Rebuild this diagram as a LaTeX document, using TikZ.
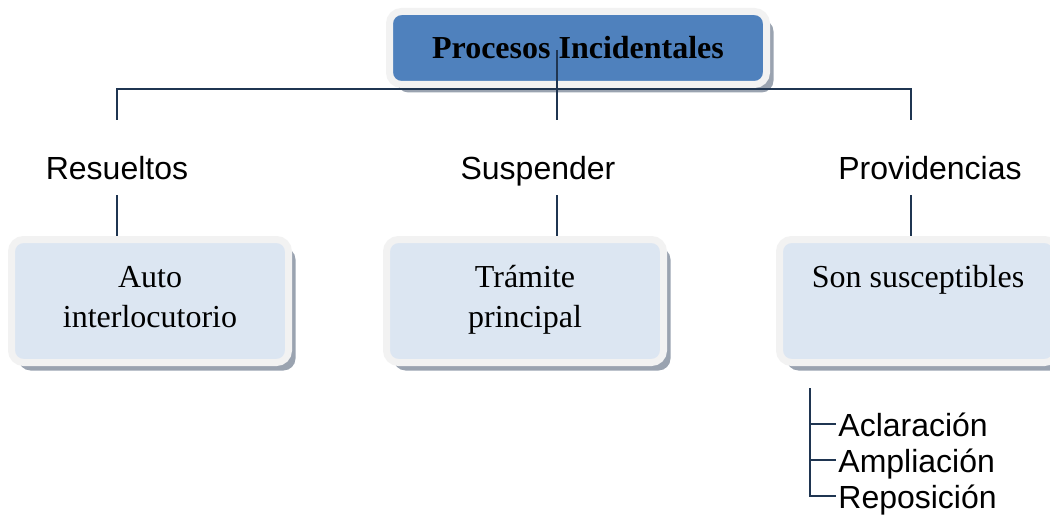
\documentclass[tikz,border=0pt]{standalone}
\usepackage{fontspec}
\setmainfont{Liberation Serif}
\setsansfont{Liberation Sans}
\usetikzlibrary{shadows}
\definecolor{titleblue}{HTML}{4F81BD}
\definecolor{boxfill}{HTML}{DCE6F2}
\definecolor{boxrim}{HTML}{F2F2F2}
\definecolor{boxshade}{HTML}{9AA3B0}
\definecolor{linenavy}{HTML}{1F3551}

\begin{document}
\begin{tikzpicture}[x=0.5pt,y=-0.5pt,
	card/.style={draw=boxrim, line width=3.5pt, fill=boxfill, rounded corners=6pt, minimum width=138.5pt, minimum height=61.5pt, align=center, text height=11pt, text depth=25pt, font=\fontsize{16}{20}\selectfont, drop shadow={shadow xshift=3.5pt, shadow yshift=-4pt, fill=boxshade, opacity=1}},
	card2/.style={card, text height=31pt, text depth=5pt},
	branch/.style={font=\sffamily\fontsize{16}{19}\selectfont},
	item/.style={font=\sffamily\fontsize{16}{18}\selectfont, anchor=west, inner sep=1pt, text height=12pt, text depth=3.5pt},
	conn/.style={draw=linenavy, line width=1pt}]
	\useasboundingbox (0,0) rectangle (1050,519);
	\node [card, fill=titleblue, minimum width=188.5pt, minimum height=36.5pt, text height=, text depth=, font=\bfseries\fontsize{16}{19}\selectfont] (title) at (578,48) {Procesos Incidentales};
	\node [branch] (resueltos) at (117,168) {Resueltos};
	\node [branch] (suspender) at (538,171) {Suspender};
	\node [branch] (providencias) at (930,168) {Providencias};
	\node [card2] (auto) at (150,301) {Auto\\interlocutorio};
	\node [card2] (tramite) at (525,301) {Trámite\\principal};
	\node [card] (susceptibles) at (918,301) {Son susceptibles};
	\node [item] (aclaracion) at (836,428) {Aclaración};
	\node [item] (ampliacion) at (836,464) {Ampliación};
	\node [item] (reposicion) at (836,500) {Reposición};
	% bus under the title
	\coordinate (hubtop) at (557,50);
	\coordinate (hub) at (557,89);
	\coordinate (busl) at (117,89);
	\coordinate (busr) at (911,89);
	\draw [conn] (hubtop) -- (557,120);
	\draw [conn] (117,120) -- (busl) -- (busr) -- (911,120);
	% drops to the boxes
	\draw [conn] (117,195) -- (117,236);
	\draw [conn] (557,195) -- (557,236);
	\draw [conn] (911,195) -- (911,236);
	% list under the last box
	\coordinate (listtop) at (810,388);
	\draw [conn] (listtop) |- ([yshift=2pt]reposicion.west);
	\draw [conn] (810,424) -- ([yshift=2pt]aclaracion.west);
	\draw [conn] (810,460) -- ([yshift=2pt]ampliacion.west);
\end{tikzpicture}
\end{document}
